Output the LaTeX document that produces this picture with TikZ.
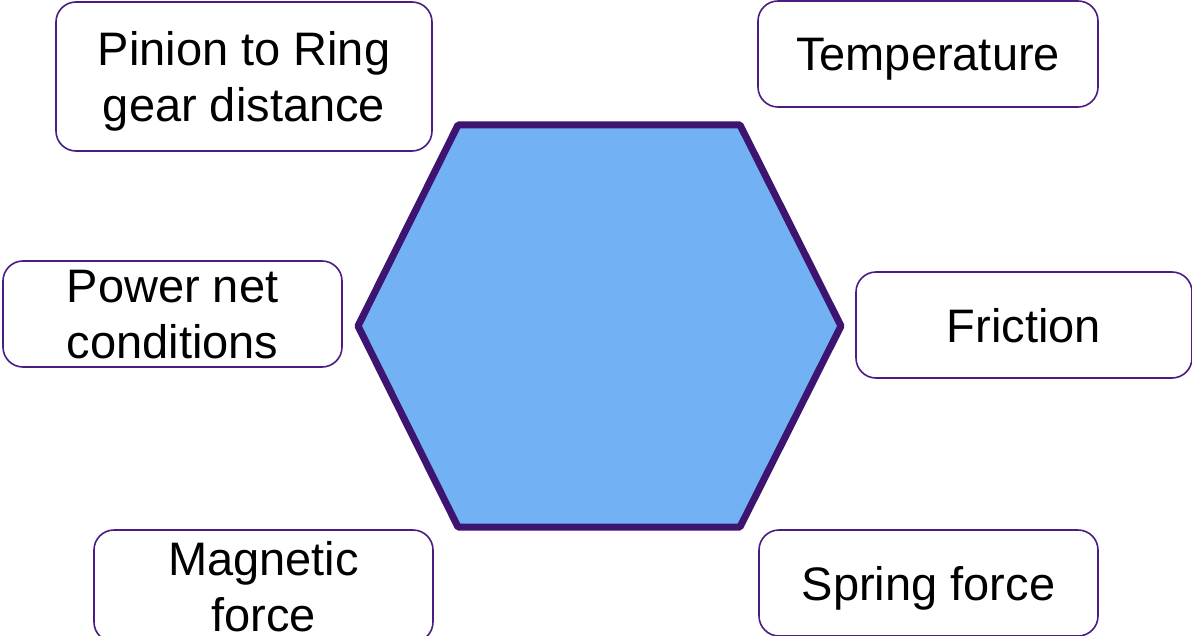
\documentclass[tikz,border=0pt]{standalone}
\usepackage{fontspec}
\setmainfont{Liberation Sans}
\definecolor{hexFill}{HTML}{71B1F4}
\definecolor{hexLine}{HTML}{3D1470}
\definecolor{boxLine}{HTML}{4A1D80}
\tikzset{
  factor/.style={draw=boxLine, line width=0.8pt, rounded corners=10pt, fill=white,
    align=center, inner sep=0pt, text depth=0pt, font=\fontsize{23.5}{28}\selectfont},
  hexa/.style={draw=hexLine, fill=hexFill, line width=3.5pt, line join=round},
}
\def\W{1192}
\def\H{636}
\begin{document}
\begin{tikzpicture}[x=0.5pt, y=-0.5pt]
    % Fix the page size
    \useasboundingbox (0,0) rectangle (\W,\H);
    \clip (0,0) rectangle (\W,\H);
    % Corners of the hexagon
    \coordinate (hT1) at (458,125);     % top left
    \coordinate (hT2) at (740,125);     % top right
    \coordinate (hR)  at (841,326);     % right tip
    \coordinate (hB2) at (740,527);     % bottom right
    \coordinate (hB1) at (458,527);     % bottom left
    \coordinate (hL)  at (358,326);     % left tip
    \draw[hexa] (hT1) -- (hT2) -- (hR) -- (hB2) -- (hB1) -- (hL) -- cycle;
    % Influence factors round the hexagon
    \node[factor, minimum width=188pt,   minimum height=74.5pt] (pinion)   at (244,76.5)  {Pinion to Ring\\gear distance};
    \node[factor, minimum width=170pt,   minimum height=53pt]   (temp)     at (928,54)    {Temperature};
    \node[factor, minimum width=169.5pt, minimum height=53pt]   (power)    at (172.5,314) {Power net\\conditions};
    \node[factor, minimum width=168pt,   minimum height=53pt]   (friction) at (1024,325)  {Friction};
    \node[factor, minimum width=169.5pt, minimum height=56pt]   (magnetic) at (263.5,586) {Magnetic\\force};
    \node[factor, minimum width=169.5pt, minimum height=53pt]   (spring)   at (928.5,583) {Spring force};
\end{tikzpicture}
\end{document}
